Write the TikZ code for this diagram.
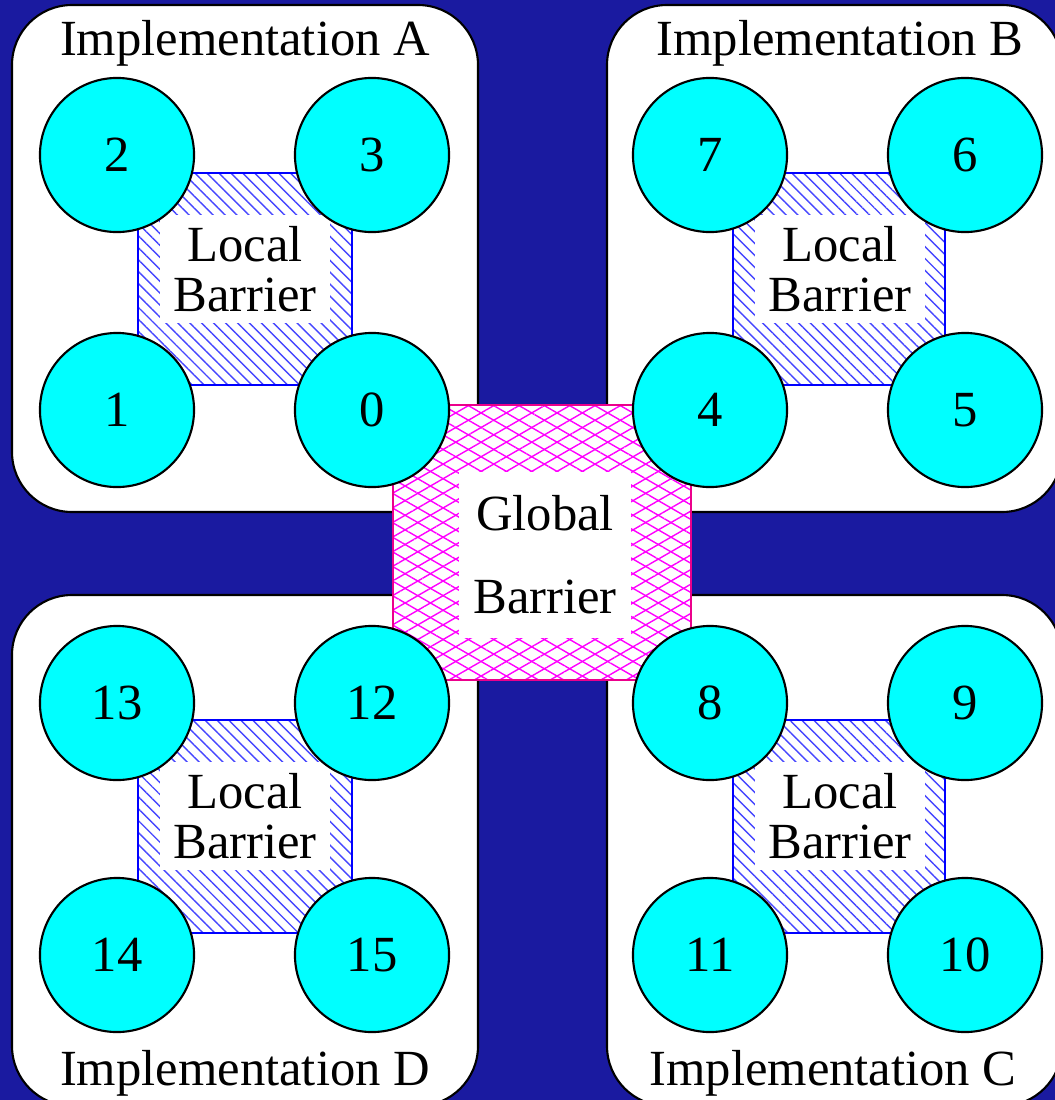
\documentclass[tikz,border=0pt]{standalone}
\usepackage{fontspec}
\setmainfont{Liberation Serif}
\usetikzlibrary{patterns.meta}
\definecolor{slideblue}{RGB}{26,26,160}
\definecolor{hatchblue}{RGB}{70,70,255}
\definecolor{proccyan}{RGB}{0,255,255}

\begin{document}
\begin{tikzpicture}[x=0.01cm, y=-0.01cm,
  panel/.style={draw=black, line width=0.6pt, fill=white, rounded corners=0.6cm},
  proc/.style={circle, draw=black, line width=0.6pt, fill=proccyan, minimum size=1.54cm,
               inner sep=0pt, font=\fontsize{14.4}{16}\selectfont},
  localbar/.style={draw=blue, line width=0.6pt, preaction={fill=white},
               pattern={Lines[angle=-45, distance=2.4pt, line width=0.4pt]}, pattern color=hatchblue},
  globalbar/.style={draw=magenta, line width=0.6pt, preaction={fill=white},
               preaction={pattern={Lines[angle=30, distance=3.6pt, line width=0.4pt]}, pattern color=magenta},
               pattern={Lines[angle=-30, distance=3.6pt, line width=0.4pt]}, pattern color=magenta},
  localtxt/.style={fill=white, align=center, inner sep=0pt, minimum width=1.7cm, minimum height=1.08cm,
               font=\fontsize{14.4}{14.2}\selectfont},
  globaltxt/.style={fill=white, align=center, inner sep=0pt, minimum width=1.71cm, minimum height=1.66cm,
               font=\fontsize{14.4}{23.6}\selectfont},
  impl/.style={anchor=base, inner sep=0pt, font=\fontsize{14.4}{16}\selectfont}]

  % slide background
  \fill[slideblue] (0,0) rectangle (1055,1100);
  \useasboundingbox (0,0) rectangle (1055,1100);

  % the four implementation panels
  \draw[panel] (12,5) rectangle (478,512);
  \draw[panel] (607,5) rectangle (1062,512);
  \draw[panel] (12,595) rectangle (478,1106);
  \draw[panel] (607,595) rectangle (1062,1106);

  % local barriers
  \draw[localbar] (138,173) rectangle (352,385);
  \draw[localbar] (733,173) rectangle (945,385);
  \draw[localbar] (138,720) rectangle (352,933);
  \draw[localbar] (733,720) rectangle (945,933);

  % global barrier
  \draw[globalbar] (393,405) rectangle (691,680);

  \node[localtxt] (locA) at (245,269) {Local\\Barrier};
  \node[localtxt] (locB) at (840,269) {Local\\Barrier};
  \node[localtxt] (locD) at (245,816) {Local\\Barrier};
  \node[localtxt] (locC) at (840,816) {Local\\Barrier};
  \node[globaltxt] (glob) at (545,555) {Global\\Barrier};

  % processes
  \foreach \n/\x/\y in {2/117/155, 3/372/155, 1/117/410, 0/372/410,
                        7/710/155, 6/965/155, 4/710/410, 5/965/410,
                        13/117/703, 12/372/703, 14/117/955, 15/372/955,
                        8/710/703, 9/965/703, 11/710/955, 10/965/955}
    \node[proc] (p\n) at (\x,\y) {\n};

  % panel titles
  \node[impl] (implA) at (245,55) {Implementation A};
  \node[impl] (implB) at (840,55) {Implementation B};
  \node[impl] (implD) at (245,1085) {Implementation D};
  \node[impl] (implC) at (833,1085) {Implementation C};
\end{tikzpicture}
\end{document}
